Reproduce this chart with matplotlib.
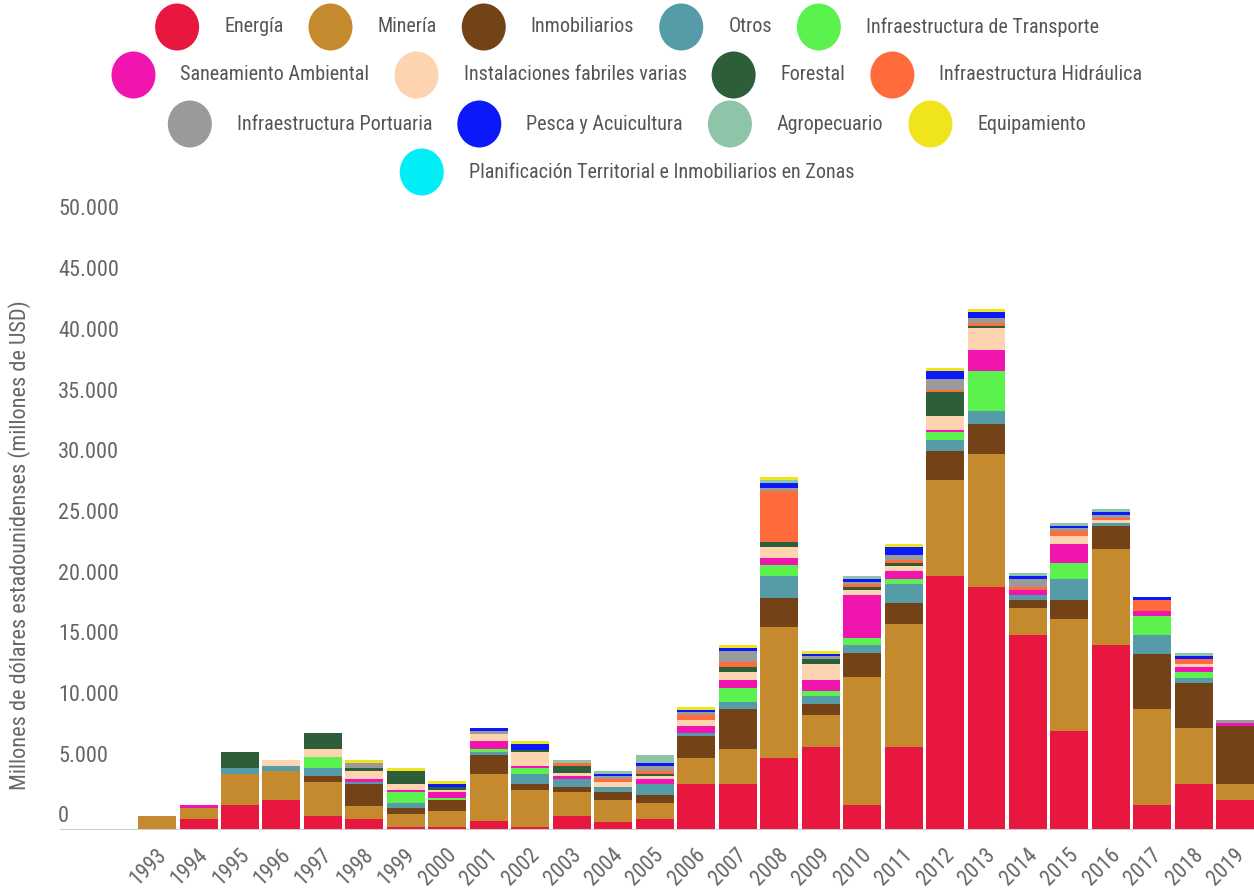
import matplotlib
matplotlib.use('Agg')
import matplotlib.pyplot as plt
from matplotlib.patches import Ellipse
from matplotlib.transforms import offset_copy, ScaledTranslation
from matplotlib import font_manager
import numpy as np

# ---------------- data ----------------
years = list(range(1993, 2020))

series_names = [
    "Energía", "Minería", "Inmobiliarios", "Otros", "Infraestructura de Transporte",
    "Saneamiento Ambiental", "Instalaciones fabriles varias", "Forestal",
    "Infraestructura Hidráulica", "Infraestructura Portuaria", "Pesca y Acuicultura",
    "Agropecuario", "Equipamiento", "Planificación Territorial e Inmobiliarios en Zonas",
]
series_colors = [
    "#E8173F", "#C58A2E", "#734216", "#559CA8", "#5CF24E",
    "#F115B0", "#FDD3B0", "#2D5E3A", "#FF6B3A", "#9A9A9A",
    "#0B18FA", "#8EC4A8", "#F0E41C", "#00EEF5",
]

energia = [0, 906, 2060, 2470, 1150, 906, 247, 247, 740, 247, 1150, 660, 906, 3790,
           3790, 5930, 6840, 2060, 6840, 20920, 20020, 16060, 8150, 15230, 2050, 3790, 2490]
mineria = [1150, 906, 2550, 2390, 2800, 1070, 1070, 1320, 3870, 3050, 1980, 1810, 1320, 2140,
           2880, 10790, 2640, 10545, 10110, 7915, 10955, 2225, 9245, 7915, 7915, 4620, 1300]
inmobiliarios = [0, 0, 0, 0, 494, 1810, 494, 906, 1565, 494, 412, 660, 660, 1810,
                 3300, 2390, 906, 1980, 1730, 2400, 2470, 664, 1560, 1910, 4540, 3700, 4800]
otros = [0, 0, 494, 412, 660, 165, 412, 0, 247, 824, 660, 412, 906, 247,
         577, 1810, 660, 660, 1560, 900, 1070, 404, 1730, 231, 1560, 404, 0]
transporte = [0, 0, 0, 0, 906, 0, 906, 165, 247, 494, 0, 0, 0, 0,
              1150, 906, 412, 577, 433, 660, 3295, 0, 1300, 0, 1560, 490, 0]
saneamiento = [0, 247, 0, 0, 0, 247, 165, 494, 660, 165, 247, 0, 412, 577,
               660, 577, 906, 3540, 636, 165, 1730, 404, 1560, 0, 404, 433, 260]
instalaciones = [0, 0, 0, 494, 660, 660, 494, 165, 577, 1150, 247, 412, 247, 494,
                 660, 906, 1320, 412, 433, 1155, 1810, 0, 664, 260, 0, 231, 0]
forestal = [0, 0, 1320, 0, 1320, 247, 1070, 247, 0, 165, 577, 0, 165, 0,
            412, 412, 412, 247, 231, 1977, 165, 0, 0, 0, 0, 0, 0]
hidraulica = [0, 0, 0, 0, 0, 0, 0, 0, 0, 0, 247, 247, 247, 412,
              412, 4200, 0, 247, 231, 165, 247, 260, 404, 173, 924, 433, 0]
portuaria = [0, 0, 0, 0, 0, 412, 0, 0, 247, 0, 0, 247, 412, 247,
             906, 247, 247, 165, 433, 906, 412, 636, 260, 231, 0, 0, 231]
pesca = [0, 0, 0, 0, 0, 0, 0, 247, 247, 494, 0, 165, 247, 165,
         247, 412, 165, 247, 664, 660, 494, 260, 173, 260, 231, 231, 0]
agropecuario = [0, 0, 0, 0, 0, 0, 0, 0, 0, 0, 247, 247, 660, 0,
                0, 247, 0, 247, 0, 0, 0, 260, 231, 231, 0, 260, 0]
equipamiento = [0, 0, 0, 0, 0, 247, 247, 247, 0, 247, 0, 0, 0, 247,
                247, 247, 247, 0, 231, 247, 247, 0, 0, 0, 0, 0, 0]
planificacion = [0] * 27

series_values = [energia, mineria, inmobiliarios, otros, transporte, saneamiento,
                 instalaciones, forestal, hidraulica, portuaria, pesca, agropecuario,
                 equipamiento, planificacion]

y_ticks = list(range(0, 50001, 5000))
y_title = "Millones de dólares estadounidenses (millones de USD)"
legend_rows = [5, 4, 4, 1]

# ---------------- style ----------------
avail = {f.name for f in font_manager.fontManager.ttflist}
family = None
for cand in ["Liberation Sans Narrow", "Roboto Condensed", "Roboto", "DejaVu Sans"]:
    if cand in avail:
        family = cand
        break
plt.rcParams['font.family'] = [family, 'DejaVu Sans']

W, H = 1254, 893
fig = plt.figure(figsize=(W / 100, H / 100), dpi=100)
fig.patch.set_facecolor('white')

plot_left, plot_right = 60, 1254
plot_top, plot_bottom = 223, 830
ax = fig.add_axes([plot_left / W, (H - plot_bottom) / H,
                   (plot_right - plot_left) / W, (plot_bottom - plot_top) / H])

x = np.arange(len(years))
bottom = np.zeros(len(years))
for name, color, vals in zip(series_names, series_colors, series_values):
    v = np.array(vals, dtype=float)
    ax.bar(x, v, width=0.916, bottom=bottom, color=color, linewidth=0, label=name, zorder=2)
    bottom += v

ax.set_ylim(0, 50000)
ax.set_xlim(-2.34, 26.45)
for s in ax.spines.values():
    s.set_visible(False)
ax.axhline(0, color='#cccccc', lw=2.2, zorder=3)

# y tick labels drawn inside the plot area above their (invisible) grid lines
ax.set_yticks([])
ytrans = offset_copy(ax.get_yaxis_transform(), fig=fig, x=-2, y=13, units='dots')
for t in y_ticks:
    lab = f"{t:,}".replace(",", ".")
    ax.text(0, t, lab, transform=ytrans, ha='left', va='center',
            fontsize=16, color='#666666')

ax.set_xticks(x)
ax.set_xticklabels([str(y) for y in years], rotation=45, ha='right',
                   va='center', rotation_mode='anchor', fontsize=15.5, color='#666666')
ax.tick_params(axis='x', length=0, pad=16)
for lab in ax.get_xticklabels():
    lab.set_transform(lab.get_transform() + ScaledTranslation(6 / 100, 0, fig.dpi_scale_trans))

fig.text(20 / W, 1 - 545 / H, y_title, rotation=90, ha='center', va='center',
         fontsize=16, color='#666666')

# ---------------- legend (flow layout) ----------------
lax = fig.add_axes([0, 0, 1, 1], zorder=5)
lax.set_xlim(0, W)
lax.set_ylim(H, 0)
lax.axis('off')
renderer = fig.canvas.get_renderer()
row_y = [27, 75, 124, 172]
sym_w, sym_h, text_off, gap = 44, 47, 69, 25
idx = 0
for r, n in enumerate(legend_rows):
    items = list(range(idx, idx + n))
    idx += n
    widths = []
    texts = []
    for i in items:
        t = lax.text(0, row_y[r], series_names[i], ha='left', va='center',
                     fontsize=14.5, color='#555555')
        bb = t.get_window_extent(renderer)
        widths.append(text_off + bb.width)
        texts.append(t)
    total = sum(widths) + gap * (n - 1)
    cur = W / 2 - total / 2
    for i, t, w in zip(items, texts, widths):
        lax.add_patch(Ellipse((cur + sym_w / 2, row_y[r]), sym_w, sym_h,
                              color=series_colors[i], lw=0))
        t.set_x(cur + text_off)
        cur += w + gap

fig.savefig('out.png', dpi=100, facecolor='white')
